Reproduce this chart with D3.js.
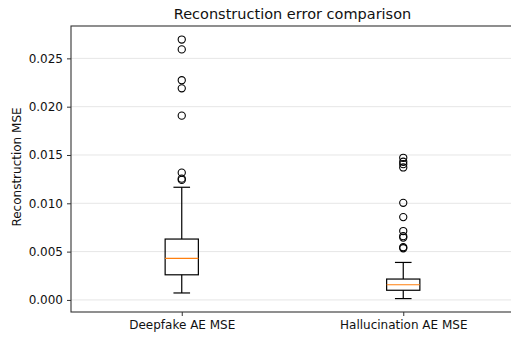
<!DOCTYPE html>
<html>
<head>
<meta charset="utf-8">
<script src="https://cdn.jsdelivr.net/npm/d3@7"></script>
<style>
  body { margin: 0; background: #fff; }
  svg { font-family: "DejaVu Sans", sans-serif; }
</style>
</head>
<body>
<div id="chart"></div>
<script>
    // values
    var categories = ['Deepfake AE MSE', 'Hallucination AE MSE'];
    var whiskerLow = [0.00072, 0.00014];
    var q1 = [0.0026, 0.0010];
    var median = [0.00429, 0.00157];
    var q3 = [0.0063, 0.00216];
    var whiskerHigh = [0.01166, 0.00388];
    var outliers = [
        [0.01242, 0.01255, 0.01317, 0.01907, 0.0219, 0.02274, 0.02593, 0.02695],
        [0.00535, 0.00545, 0.00645, 0.0066, 0.00713, 0.00857, 0.01005, 0.01371, 0.01405, 0.0143, 0.01471]
    ];
    var yTicks = [0, 0.005, 0.010, 0.015, 0.020, 0.025];

    var width = 511, height = 338,
        margin = {top: 26, right: -3, bottom: 26, left: 71},
        w = width - margin.left - margin.right,
        h = height - margin.top - margin.bottom;

    var svg = d3.select('#chart').append('svg')
        .attr('width', width)
        .attr('height', height);

    var g = svg.append('g')
        .attr('transform', 'translate(' + margin.left + ',' + margin.top + ')');

    // positions 1,2 with xlim 0.5..2.5 like matplotlib
    var x = d3.scaleLinear().domain([0.5, 2.5]).range([0, w]);
    var y = d3.scaleLinear().domain([-0.00125, 0.02835]).range([h, 0]);
    var boxW = x(1.15) - x(1);

    // grid
    g.selectAll('.grid')
        .data(yTicks)
        .enter()
        .append('line')
        .attr('x1', 0)
        .attr('x2', w)
        .attr('y1', function(d) { return y(d); })
        .attr('y2', function(d) { return y(d); })
        .attr('stroke', '#e6e6e6')
        .attr('stroke-width', 1);

    // axes
    var yAxis = g.append('g')
        .call(d3.axisLeft(y).tickValues(yTicks).tickFormat(d3.format('.3f')).tickSize(4).tickPadding(4));
    var xAxis = g.append('g')
        .attr('transform', 'translate(0,' + h + ')')
        .call(d3.axisBottom(x).tickValues([1, 2]).tickFormat(function(d) { return categories[d - 1]; }).tickSize(4).tickPadding(4));

    [xAxis, yAxis].forEach(function(a) {
        a.select('.domain').remove();
        a.selectAll('line').attr('stroke', '#333');
        a.selectAll('text').attr('font-size', '12px').attr('fill', '#111')
            .attr('font-family', '"DejaVu Sans", sans-serif');
    });

    // frame
    g.append('rect')
        .attr('x', 0).attr('y', 0)
        .attr('width', w).attr('height', h)
        .attr('fill', 'none')
        .attr('stroke', '#333')
        .attr('stroke-width', 1.1);

    var boxes = g.selectAll('.box')
        .data(categories)
        .enter()
        .append('g')
        .attr('class', 'box');

    boxes.each(function(d, i) {
        var b = d3.select(this),
            cx = x(i + 1);

        // whiskers
        b.append('line')
            .attr('x1', cx).attr('x2', cx)
            .attr('y1', y(whiskerLow[i])).attr('y2', y(q1[i]))
            .attr('stroke', '#000').attr('stroke-width', 1.2);
        b.append('line')
            .attr('x1', cx).attr('x2', cx)
            .attr('y1', y(q3[i])).attr('y2', y(whiskerHigh[i]))
            .attr('stroke', '#000').attr('stroke-width', 1.2);
        // caps
        [whiskerLow[i], whiskerHigh[i]].forEach(function(v) {
            b.append('line')
                .attr('x1', cx - boxW / 4).attr('x2', cx + boxW / 4)
                .attr('y1', y(v)).attr('y2', y(v))
                .attr('stroke', '#000').attr('stroke-width', 1.2);
        });
        // box
        b.append('rect')
            .attr('x', cx - boxW / 2)
            .attr('y', y(q3[i]))
            .attr('width', boxW)
            .attr('height', y(q1[i]) - y(q3[i]))
            .attr('fill', 'none')
            .attr('stroke', '#000').attr('stroke-width', 1.2);
        // median
        b.append('line')
            .attr('x1', cx - boxW / 2).attr('x2', cx + boxW / 2)
            .attr('y1', y(median[i])).attr('y2', y(median[i]))
            .attr('stroke', '#ff7f0e').attr('stroke-width', 1.2);
        // fliers
        b.selectAll('circle')
            .data(outliers[i])
            .enter()
            .append('circle')
            .attr('cx', cx)
            .attr('cy', function(v) { return y(v); })
            .attr('r', 3.6)
            .attr('fill', 'none')
            .attr('stroke', '#000')
            .attr('stroke-width', 1.1);
    });

    // title and label
    svg.append('text')
        .attr('x', margin.left + x(1.5))
        .attr('y', 19)
        .attr('text-anchor', 'middle')
        .attr('font-size', '14.5px')
        .attr('fill', '#111')
        .text('Reconstruction error comparison');

    svg.append('text')
        .attr('transform', 'translate(20.5,' + (margin.top + h / 2 - 2) + ') rotate(-90)')
        .attr('text-anchor', 'middle')
        .attr('font-size', '12px')
        .attr('fill', '#111')
        .text('Reconstruction MSE');
</script>
</body>
</html>
